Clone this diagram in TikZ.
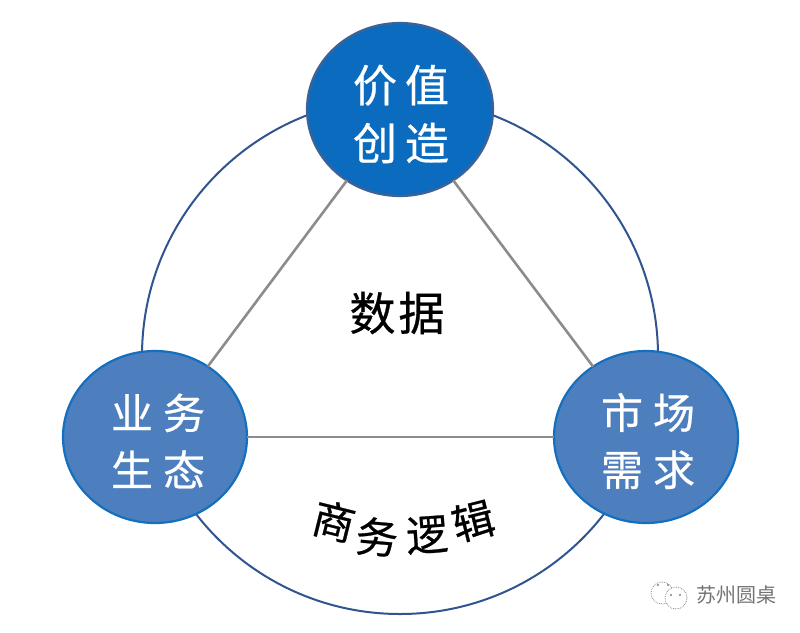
\documentclass[tikz,border=0pt]{standalone}
\usepackage{fontspec}
\usetikzlibrary{shapes.geometric}
\newfontfamily\cjk[FakeBold=0.6]{Noto Sans CJK SC}
\newfontfamily\cjklight{Noto Sans CJK SC}
\definecolor{ringblue}{HTML}{2F5490}
\definecolor{topfill}{HTML}{0B6CBF}
\definecolor{sidefill}{HTML}{4D7EBD}
\definecolor{edgeblue}{HTML}{3F6296}
\definecolor{sideedge}{HTML}{1470BE}
\definecolor{triline}{HTML}{8C8C8C}
\tikzset{
  ring/.style={circle,draw=ringblue,line width=2pt,minimum size=516pt,inner sep=0pt,outer sep=0pt},
  topdisc/.style={ellipse,draw=edgeblue,line width=2.2pt,fill=topfill,minimum width=186pt,minimum height=173pt,inner sep=0pt,outer sep=0pt},
  sidedisc/.style={ellipse,draw=sideedge,line width=2.2pt,fill=sidefill,minimum width=184pt,minimum height=172pt,inner sep=0pt,outer sep=0pt},
  triedge/.style={draw=triline,line width=2.6pt},
  toplabel/.style={text=white,align=center,inner sep=0pt,font=\cjk\fontsize{44}{58}\selectfont},
  sidelabel/.style={text=white,align=center,inner sep=0pt,font=\cjk\fontsize{42}{57}\selectfont},
  blacktext/.style={text=black,inner sep=0pt,font=\cjk\fontsize{46}{46}\selectfont},
  arctext/.style={text=black,inner sep=0pt,font=\cjk\fontsize{42}{42}\selectfont},
  marktext/.style={text=black!55,inner sep=0pt,font=\cjklight\fontsize{20}{20}\selectfont},
  bubble/.style={circle,draw=black!45,line width=0.8pt,densely dotted,inner sep=0pt,outer sep=0pt},
  eye/.style={circle,fill=black!50,inner sep=0pt,minimum size=2.4pt},
}
\begin{document}
\begin{tikzpicture}[x=1pt,y=-1pt]
\useasboundingbox (0,0) rectangle (800,632);
\node[ring] (big) at (400,356) {};
\node[topdisc] (top) at (400,109.5) {};
\node[sidedisc] (left) at (155,437) {};
\node[sidedisc] (right) at (646,437) {};
\draw[triedge] (top) -- (left);
\draw[triedge] (top) -- (right);
\draw[triedge] (left) -- (right);
\node[toplabel] (tl) at (401,114) {价\hspace{8pt}值\\创\hspace{8pt}造};
\node[sidelabel] (ll) at (158,441) {业\hspace{10pt}务\\生\hspace{10pt}态};
\node[sidelabel] (rl) at (648,441) {市\hspace{10pt}场\\需\hspace{10pt}求};
\node[blacktext] (data) at (397,313) {数\hspace{3pt}据};
\node[arctext,rotate=-14] (c1) at (334,521) {商};
\node[arctext,rotate=-5] (c2) at (377,537) {务};
\node[arctext,rotate=4] (c3) at (427,535) {逻};
\node[arctext,rotate=14] (c4) at (473,521) {辑};
\node[bubble,minimum size=22pt] (b1) at (662,593) {};
\node[bubble,minimum size=22pt,fill=white] (b2) at (676,598) {};
\node[eye] (e1) at (658,585) {};
\node[eye] (e2) at (668,585) {};
\node[eye] (e3) at (671,595) {};
\node[eye] (e4) at (680,595) {};
\node[marktext,anchor=west] (mark) at (696,595) {苏州圆桌};
\end{tikzpicture}
\end{document}
